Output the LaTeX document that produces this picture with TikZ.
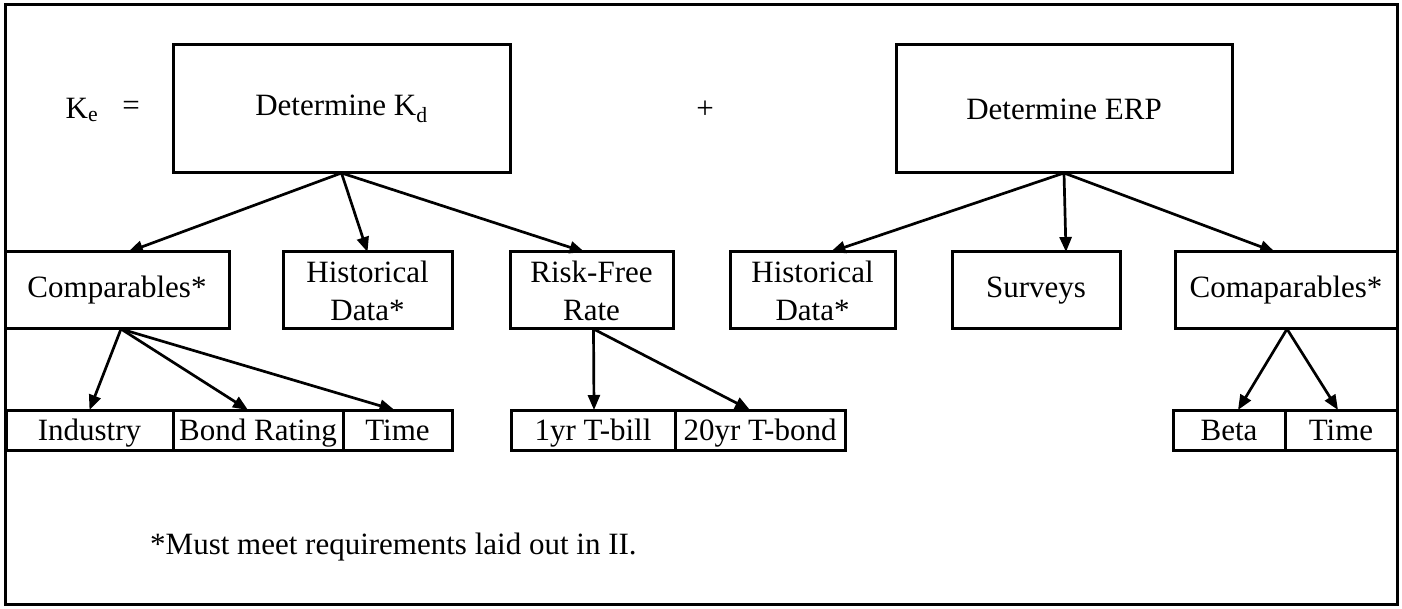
\documentclass[tikz,border=0pt]{standalone}
\usepackage{fontspec}
\setmainfont{Liberation Serif}
\usetikzlibrary{arrows.meta}
\begin{document}
\begin{tikzpicture}[x=1pt,y=-1pt,
  box/.style={draw,line width=3pt,inner sep=0pt,outer sep=0pt,align=center,font=\fontsize{31}{38}\selectfont},
  cell/.style={box,minimum height=40pt,text height=24pt,text depth=4pt},
  arr/.style={line width=2.7pt,-{Triangle[length=15pt,width=12pt]}},
  lbl/.style={inner sep=0pt,font=\fontsize{31}{38}\selectfont}]
\useasboundingbox (0,0) rectangle (1402,609);
\fill[white] (0,0) rectangle (1402,609);
\draw[line width=3pt] (5,5) rectangle (1397,604);
% top level
\node[lbl] (ke) at (82,110) {K\textsubscript{e}};
\node[lbl] (eq) at (131,108) {=};
\node[lbl] (plus) at (705,110) {+};
\node[box,minimum width=337pt,minimum height=128pt] (kd) at (341.5,109) {Determine K\textsubscript{d}};
\node[box,minimum width=336pt,minimum height=128pt] (erp) at (1064,109) {Determine ERP};
% second row
\node[box,minimum width=224pt,minimum height=77pt] (comp) at (117,290.5) {Comparables*};
\node[box,minimum width=169pt,minimum height=77pt] (hist1) at (367.5,290.5) {Historical\\Data*};
\node[box,minimum width=163pt,minimum height=77pt] (rf) at (591.5,290.5) {Risk-Free\\Rate};
\node[box,minimum width=165pt,minimum height=77pt] (hist2) at (812.5,290.5) {Historical\\Data*};
\node[box,minimum width=168pt,minimum height=77pt] (surv) at (1036,290.5) {Surveys};
\node[box,minimum width=222pt,minimum height=77pt] (comap) at (1286,290.5) {Comaparables*};
% third row
\node[cell,minimum width=167pt] (ind) at (89.5,430) {Industry};
\node[cell,minimum width=170pt] (bond) at (258,430) {Bond Rating};
\node[cell,minimum width=109pt] (time1) at (397.5,430) {Time};
\node[cell,minimum width=164pt] (tbill) at (593,430) {1yr T-bill};
\node[cell,minimum width=170pt] (tbond) at (760,430) {20yr T-bond};
\node[cell,minimum width=112pt] (beta) at (1229,430) {Beta};
\node[cell,minimum width=112pt] (time2) at (1341,430) {Time};
% footnote
\node[lbl,anchor=west] (foot) at (150,547) {*Must meet requirements laid out in II.};
% arrows
\draw[arr] (kd.south) -- ([xshift=11pt]comp.north);
\draw[arr] (kd.south) -- (hist1.north);
\draw[arr] (kd.south) -- ([xshift=-7pt]rf.north);
\draw[arr] (erp.south) -- ([xshift=18pt]hist2.north);
\draw[arr] (erp.south) -- ([xshift=30pt]surv.north);
\draw[arr] (erp.south) -- ([xshift=-11pt]comap.north);
\draw[arr] ([xshift=4pt]comp.south) -- (ind.north);
\draw[arr] ([xshift=4pt]comp.south) -- ([xshift=-10pt]bond.north);
\draw[arr] ([xshift=4pt]comp.south) -- ([xshift=-3pt]time1.north);
\draw[arr] ([xshift=2pt]rf.south) -- ([xshift=1pt]tbill.north);
\draw[arr] ([xshift=2pt]rf.south) -- ([xshift=-10pt]tbond.north);
\draw[arr] ([xshift=1pt]comap.south) -- ([xshift=9pt]beta.north);
\draw[arr] ([xshift=1pt]comap.south) -- ([xshift=-3pt]time2.north);
\end{tikzpicture}
\end{document}
